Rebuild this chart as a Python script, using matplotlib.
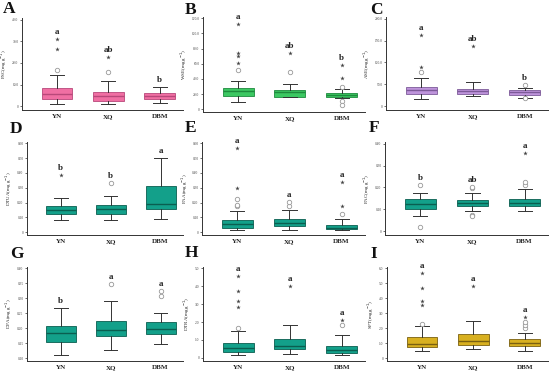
import matplotlib.pyplot as plt

groups = ["YN", "XQ", "DBM"]

# box stats per group: [whisker low, q1, median, q3, whisker high]
psc_box = [[1.2, 3.2, 5.4, 8.3, 14.6], [1.2, 2.5, 4.8, 6.5, 11.5], [1.5, 3.4, 4.8, 6.2, 8.9]]
psc_out = [[16.8], [15.7], []]
psc_ext = [[26.5, 31.1], [22.6], []]
psc_sig = ["a", "ab", "b"]

wse_box = [[9.3, 17.6, 23.6, 28.2, 37.5], [15.7, 16.7, 22.7, 25.9, 33.8], [14.8, 16.7, 18.5, 20.8, 26.9]]
wse_out = [[52.3], [49.0], [29.2, 10.6, 5.6]]
wse_ext = [[61.6, 69.9, 74.5, 112.0], [74.0], [41.2, 57.9]]
wse_sig = ["a", "ab", "b"]

ase_box = [[16.4, 28.0, 37.4, 43.6, 65.4], [24.0, 28.0, 35.0, 39.7, 54.5], [18.7, 26.5, 32.0, 35.8, 42.0]]
ase_out = [[77.0], [], [17.5, 47.5]]
ase_ext = [[90.3, 162.0], [138.6], []]
ase_sig = ["a", "ab", "b"]

dtua_box = [[0.080, 0.120, 0.147, 0.175, 0.234], [0.085, 0.126, 0.156, 0.182, 0.244], [0.087, 0.159, 0.189, 0.313, 0.501]]
dtua_out = [[], [0.331], []]
dtua_ext = [[0.388], [], []]
dtua_sig = ["b", "b", "a"]

paa_box = [[0.014, 0.032, 0.055, 0.085, 0.142], [0.018, 0.044, 0.062, 0.087, 0.147], [0.014, 0.020, 0.032, 0.051, 0.092]]
paa_out = [[0.175, 0.184, 0.225], [0.175, 0.202], [0.122]]
paa_ext = [[0.300, 0.565], [], [0.177, 0.340]]
paa_sig = ["a", "a", "a"]

pac_box = [[0.069, 0.102, 0.122, 0.145, 0.173], [0.094, 0.114, 0.127, 0.141, 0.176], [0.090, 0.116, 0.130, 0.147, 0.192]]
pac_out = [[0.212, 0.019], [0.198, 0.203, 0.074, 0.068], [0.210, 0.225]]
pac_ext = [[], [], [0.357]]
pac_sig = ["b", "ab", "a"]

dpa_box = [[0.110, 0.155, 0.183, 0.209, 0.266], [0.127, 0.174, 0.194, 0.224, 0.290], [0.149, 0.182, 0.199, 0.222, 0.251]]
dpa_out = [[], [0.348], [0.306, 0.324]]
dpa_ext = [[], [], []]
dpa_sig = ["b", "a", "a"]

dtra_box = [[0.17, 0.30, 0.57, 0.80, 1.48], [0.21, 0.48, 0.67, 1.03, 1.83], [0.13, 0.27, 0.44, 0.68, 1.25]]
dtra_out = [[1.67], [], [1.84]]
dtra_ext = [[2.85, 3.19, 3.76, 4.60], [4.01], [2.13]]
dtra_sig = ["a", "a", "a"]

spt_box = [[0.51, 0.76, 0.93, 1.39, 2.18], [0.65, 0.86, 1.18, 1.64, 2.50], [0.51, 0.83, 1.00, 1.27, 1.71]]
spt_out = [[2.29], [], [2.04, 2.22, 2.41]]
spt_ext = [[3.54, 3.84, 4.65, 5.67], [4.79], [2.78]]
spt_sig = ["a", "a", "a"]

pink = "#F06FA3"
green = "#3CC862"
purple = "#BE94DB"
teal = "#13A08A"
gold = "#D8B020"

panels = [
    ("A", "PSC", psc_box, psc_out, psc_ext, psc_sig, pink, "#B8487A", [0, 10, 20, 30, 40], "{:.1f}"),
    ("B", "WSE", wse_box, wse_out, wse_ext, wse_sig, green, "#1E8A3E", [0, 20, 40, 60, 80, 100, 120], "{:.1f}"),
    ("C", "ASE", ase_box, ase_out, ase_ext, ase_sig, purple, "#7D5A99", [0, 50, 100, 150, 200], "{:.1f}"),
    ("D", "DTUA", dtua_box, dtua_out, dtua_ext, dtua_sig, teal, "#0A5E50", [0, 0.1, 0.2, 0.3, 0.4, 0.5, 0.6], "{:.2f}"),
    ("E", "PAA", paa_box, paa_out, paa_ext, paa_sig, teal, "#0A5E50", [0, 0.1, 0.2, 0.3, 0.4, 0.5, 0.6], "{:.2f}"),
    ("F", "PAC", pac_box, pac_out, pac_ext, pac_sig, teal, "#0A5E50", [0, 0.1, 0.2, 0.3, 0.4], "{:.2f}"),
    ("G", "DPA", dpa_box, dpa_out, dpa_ext, dpa_sig, teal, "#0A5E50", [0.10, 0.15, 0.20, 0.25, 0.30, 0.35, 0.40], "{:.2f}"),
    ("H", "DTRA", dtra_box, dtra_out, dtra_ext, dtra_sig, teal, "#0A5E50", [0, 1, 2, 3, 4, 5], "{:.1f}"),
    ("I", "SPT", spt_box, spt_out, spt_ext, spt_sig, gold, "#7A6010", [0, 1, 2, 3, 4, 5, 6], "{:.1f}"),
]

# axes placement in pixels: left, top, bottom, right
lefts = [22, 203, 386, 27, 202, 385, 27, 203, 387]
rights = [183, 365, 548, 183, 365, 548, 183, 365, 548]
tops = [18, 17, 17, 142, 142, 142, 267, 267, 267]
bottoms = [110, 112, 110, 235, 235, 235, 361, 361, 361]
letter_xy = [(3, 13), (185, 14), (370, 14), (10, 133), (185, 132), (369, 132), (10, 258), (185, 257), (370, 258)]

W, H = 550, 373
plt.rcParams['font.family'] = ['Liberation Serif', 'DejaVu Serif']
fig = plt.figure(figsize=(W / 100, H / 100), dpi=100)

for i, (tag, name, box, out, ext, sig, col, dark, ticks, fmt) in enumerate(panels):
    l, r, t, b = lefts[i], rights[i], tops[i], bottoms[i]
    ax = fig.add_axes([l / W, 1 - b / H, (r - l) / W, (b - t) / H])
    stats = []
    for j, g in enumerate(groups):
        lo, q1, med, q3, hi = box[j]
        stats.append({"med": med, "q1": q1, "q3": q3, "whislo": lo, "whishi": hi, "fliers": [], "label": g})
    ax.bxp(stats, positions=[1, 2, 3], widths=0.6, capwidths=0.27, showfliers=False, patch_artist=True,
           boxprops=dict(facecolor=col, edgecolor=dark, linewidth=0.6),
           medianprops=dict(color=dark, linewidth=1.0),
           whiskerprops=dict(color="#333333", linewidth=0.7),
           capprops=dict(color="#333333", linewidth=0.7))
    step = ticks[1] - ticks[0]
    lo_lim = ticks[0] - 0.18 * step
    hi_lim = ticks[-1] + 0.08 * step
    rng = hi_lim - lo_lim
    for j in range(3):
        if out[j]:
            ax.plot([j + 1] * len(out[j]), out[j], linestyle="none", marker="o", markersize=3.2,
                    markerfacecolor="white", markeredgecolor="#999999", markeredgewidth=0.6)
        if ext[j]:
            ax.plot([j + 1] * len(ext[j]), ext[j], linestyle="none", marker="*", markersize=3.4,
                    color="#444444", markeredgewidth=0)
        top = max([box[j][4]] + out[j] + ext[j])
        ax.text(j + 1, top + 0.075 * rng, sig[j], ha="center", va="center", fontsize=6.5,
                fontweight="bold", color="#222222")
    ax.set_xlim(0.32, 3.45)
    ax.set_ylim(lo_lim, hi_lim)
    ax.set_yticks(ticks)
    ax.set_yticklabels(["0" if v == 0 else fmt.format(v) for v in ticks], fontsize=2.6, color="#444444")
    ax.set_xticks([1, 2, 3])
    ax.set_xticklabels(groups, fontsize=5, fontweight="bold", color="#222222")
    ax.tick_params(axis="y", length=1.5, width=0.4, pad=1)
    ax.tick_params(axis="x", length=0, pad=3)
    ax.set_ylabel(name + "(mg g$^{-1}$)", fontsize=3.6, labelpad=2, color="#222222")
    for s in ["top", "right"]:
        ax.spines[s].set_visible(False)
    for s in ["left", "bottom"]:
        ax.spines[s].set_linewidth(0.7)
        ax.spines[s].set_color("#333333")
    fig.text(letter_xy[i][0] / W, 1 - letter_xy[i][1] / H, tag, fontsize=12.5, fontweight="bold",
             ha="left", va="baseline", color="#111111")

fig.savefig("out.png", dpi=100)
